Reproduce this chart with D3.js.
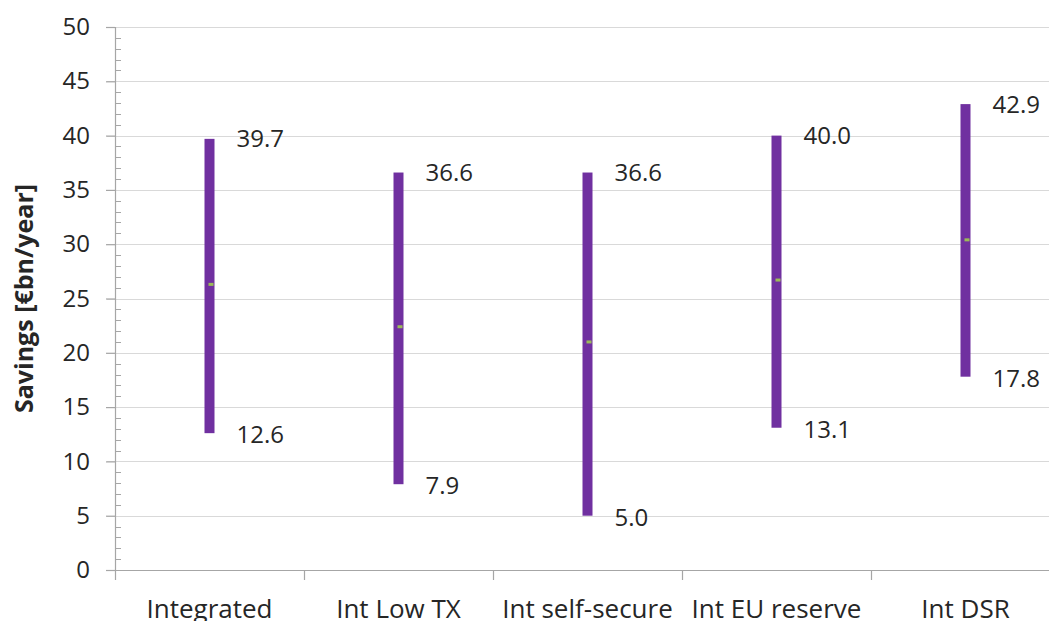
<!DOCTYPE html>
<html>
<head>
<meta charset="utf-8">
<script src="https://cdn.jsdelivr.net/npm/d3@7"></script>
<style>
  html, body { margin: 0; padding: 0; background: #fff; overflow: hidden; }
  svg text { font-family: "Open Sans", "Noto Sans", sans-serif; }
</style>
</head>
<body>
<svg id="chart" width="1049" height="621"></svg>
<script>
// Savings ranges per scenario (€bn/year)
const categories = ["Integrated", "Int Low TX", "Int self-secure", "Int EU reserve", "Int DSR"];
const highValues = [39.7, 36.6, 36.6, 40.0, 42.9];
const lowValues  = [12.6, 7.9, 5.0, 13.1, 17.8];
const midValues  = [26.3, 22.4, 21.0, 26.7, 30.4];
const yTicks = [0, 5, 10, 15, 20, 25, 30, 35, 40, 45, 50];

const svg = d3.select("#chart");
const margin = { left: 115, top: 27, right: -11, bottom: 51 };
const width = 1049 - margin.left - margin.right;
const height = 621 - margin.top - margin.bottom;

const g = svg.append("g").attr("transform", `translate(${margin.left},${margin.top})`);

const x = d3.scaleBand().domain(categories).range([0, width]).paddingInner(0).paddingOuter(0);
const y = d3.scaleLinear().domain([0, 50]).range([height, 0]);

const axisColor = "#a6a6a6";
const gridColor = "#d9d9d9";
const textColor = "#262626";
const font = "'Open Sans', 'Noto Sans', sans-serif";

// horizontal gridlines
g.append("g").selectAll("line").data(yTicks.filter(d => d > 0)).join("line")
  .attr("x1", -8).attr("x2", width)
  .attr("y1", d => Math.round(y(d)) + 0.5).attr("y2", d => Math.round(y(d)) + 0.5)
  .attr("stroke", gridColor).attr("stroke-width", 1.2);

// minor ticks on the inside of the value axis
const minor = d3.range(0, 50, 1).filter(d => d % 5 !== 0);
g.append("g").selectAll("line").data(minor).join("line")
  .attr("x1", 0).attr("x2", 6)
  .attr("y1", d => Math.round(y(d)) + 0.5).attr("y2", d => Math.round(y(d)) + 0.5)
  .attr("stroke", axisColor).attr("stroke-width", 1);

// value axis
const yAxis = d3.axisLeft(y).tickValues(yTicks).tickSize(9).tickPadding(16).tickFormat(d3.format("d"));
const ya = g.append("g").call(yAxis);
ya.select(".domain").attr("stroke", axisColor).attr("stroke-width", 1.2)
  .attr("d", `M0.5,${y(50)}V${height + 10}`);
ya.selectAll(".tick line").attr("stroke", axisColor).attr("stroke-width", 1.2);
ya.selectAll(".tick text").attr("font-size", 24).attr("fill", textColor)
  .style("font-family", font);

// category axis
const xa = g.append("g").attr("transform", `translate(0,${height})`)
  .call(d3.axisBottom(x).tickSize(0).tickPadding(29.5));
xa.select(".domain").attr("stroke", axisColor).attr("stroke-width", 1.2)
  .attr("d", `M-8,0.5H${width}`);
xa.selectAll(".tick text").attr("font-size", 26).attr("fill", textColor)
  .style("font-family", font);
// category separators
xa.append("g").selectAll("line").data(categories.slice(1)).join("line")
  .attr("x1", d => Math.round(x(d)) + 0.5).attr("x2", d => Math.round(x(d)) + 0.5)
  .attr("y1", 0).attr("y2", 10)
  .attr("stroke", axisColor).attr("stroke-width", 1.2);

// range bars
const barW = 10;
const rows = categories.map((c, i) => ({ c, hi: highValues[i], lo: lowValues[i], mid: midValues[i] }));
g.append("g").selectAll("rect").data(rows).join("rect")
  .attr("x", d => x(d.c) + x.bandwidth() / 2 - barW / 2)
  .attr("width", barW)
  .attr("y", d => y(d.hi))
  .attr("height", d => y(d.lo) - y(d.hi))
  .attr("fill", "#7030a0");

// mid markers
g.append("g").selectAll("rect").data(rows).join("rect")
  .attr("x", d => x(d.c) + x.bandwidth() / 2 - 1)
  .attr("width", 5)
  .attr("y", d => y(d.mid) - 1.5)
  .attr("height", 3)
  .attr("fill", "#9bbb59");

// value labels
const labels = g.append("g").attr("font-size", 24).attr("fill", textColor)
  .style("font-family", font);
labels.selectAll("text.hi").data(rows).join("text").attr("class", "hi")
  .attr("x", d => x(d.c) + x.bandwidth() / 2 + 27)
  .attr("y", d => y(d.hi) + 8.5)
  .text(d => d.hi.toFixed(1));
labels.selectAll("text.lo").data(rows).join("text").attr("class", "lo")
  .attr("x", d => x(d.c) + x.bandwidth() / 2 + 27)
  .attr("y", d => y(d.lo) + 10)
  .text(d => d.lo.toFixed(1));

// axis title
svg.append("text")
  .attr("transform", `translate(33,${margin.top + height / 2}) rotate(-90)`)
  .attr("text-anchor", "middle")
  .attr("font-size", 25).attr("font-weight", "bold").attr("fill", textColor)
  .style("font-family", font)
  .text("Savings [€bn/year]");
</script>
</body>
</html>
